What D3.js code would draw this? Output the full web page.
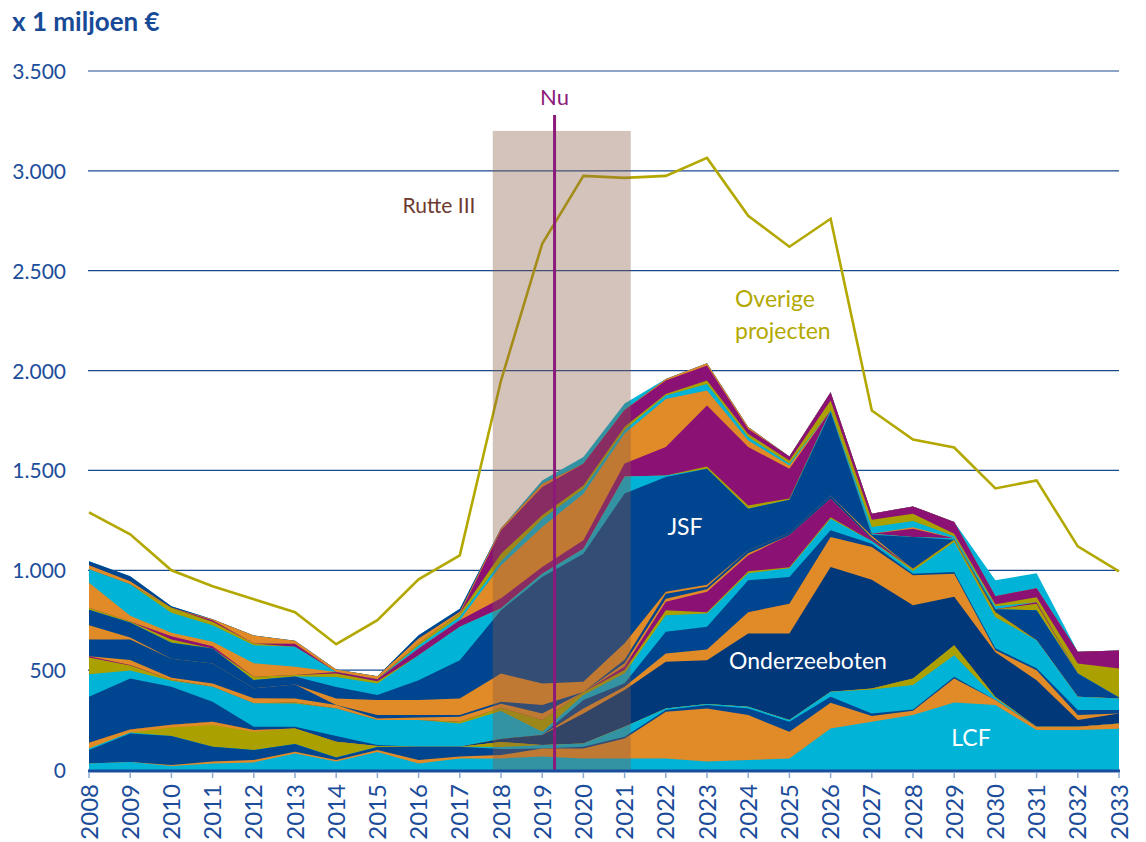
<!DOCTYPE html>
<html>
<head>
<meta charset="utf-8">
<script src="https://cdn.jsdelivr.net/npm/d3@7"></script>
<style>
  body { margin: 0; background: #fff; }
  svg { display: block; font-family: Lato, "Open Sans", sans-serif; }
</style>
</head>
<body>
<svg id="chart" width="1146" height="842"></svg>
<script>
// years on the x axis
var years = d3.range(2008, 2034);

// y axis ticks
var yTicks = [0, 500, 1000, 1500, 2000, 2500, 3000, 3500];

// total of all projects ("Overige projecten" line)
var overige = [1290, 1180, 1000, 920, 855, 790, 630, 750, 955, 1075, 1950, 2635, 2975,
               2965, 2975, 3065, 2775, 2620, 2760, 1800, 1655, 1615, 1410, 1450, 1120, 995];

// stacked layers, bottom to top (x 1 miljoen euro)
var lcf  = [33,40,20,33,38,83,42,90,33,58,58,67,58,58,58,42,50,58,208,242,275,338,325,200,200,207];
var or1  = [0,0,5,9,12,9,8,10,17,9,17,41,50,100,234,266,225,134,129,28,22,120,25,17,17,26];
var bl1  = [67,143,145,75,50,38,13,15,67,50,30,0,8,9,8,17,33,50,30,13,6,9,0,0,0,0];
var cy1  = [8,5,0,0,0,0,0,0,0,0,10,17,17,50,8,5,9,8,25,120,122,108,10,0,0,0];
var ol1  = [0,0,43,108,92,78,79,5,0,0,25,0,0,0,0,0,0,0,0,5,33,50,5,0,0,0];
var or2  = [29,15,14,17,8,0,0,0,0,0,0,0,0,0,0,0,0,0,0,0,0,0,0,0,0,0];
var onderzeeboten = [0,0,0,0,0,0,0,0,0,0,15,50,150,183,234,220,366,433,625,545,367,242,225,233,33,50];
var or3  = [0,0,0,0,0,0,0,0,0,0,0,0,25,17,41,53,107,150,150,164,150,116,10,50,25,0];
var bl2  = [230,255,190,100,17,9,28,5,0,0,0,0,42,17,109,114,160,134,33,16,8,9,10,10,25,17];
var cy2  = [113,40,30,75,117,116,138,125,133,116,140,17,25,50,83,66,35,43,58,14,14,150,155,140,67,58];
var ol2  = [83,25,5,0,0,5,0,0,0,9,17,58,15,17,25,7,10,5,7,0,11,11,25,0,0,0];
var pu1  = [7,3,0,0,0,0,0,0,0,0,0,0,0,17,42,102,80,160,93,8,0,0,0,0,0,0];
var or4  = [0,25,10,16,25,20,17,8,13,25,20,33,0,17,16,13,10,0,0,0,0,0,0,0,0,0];
var bl3  = [83,103,95,100,50,70,0,17,12,8,10,42,0,17,25,12,15,12,17,8,0,0,0,0,0,0];
var or5  = [72,10,0,0,0,0,33,75,75,83,141,108,52,83,9,11,0,0,0,10,0,0,0,0,0,0];
var jsf  = [78,75,80,75,41,40,58,25,100,192,317,534,641,750,575,580,208,166,417,5,159,0,15,150,116,5];
var cy3  = [0,0,0,0,0,0,50,58,125,167,10,16,25,84,8,0,0,0,8,5,0,8,0,0,0,0];
var ol3  = [10,5,16,0,17,8,17,12,0,0,0,0,0,0,0,12,17,7,0,0,0,0,0,33,0,0];
var pu2  = [0,0,17,12,0,0,8,10,33,33,50,34,42,66,142,305,292,148,0,0,41,0,0,7,0,0];
var or6  = [125,28,17,22,67,41,0,0,0,0,165,200,233,150,241,75,33,17,0,0,7,0,0,0,0,0];
var cy4  = [67,158,100,83,91,100,0,0,15,17,20,41,25,17,17,33,17,10,0,34,32,9,15,0,0,0];
var ol4  = [0,0,25,17,9,0,0,0,10,16,38,17,17,17,8,17,16,15,50,36,36,13,10,25,50,145];
var pu3  = [0,0,0,8,0,15,0,0,0,0,117,142,108,83,67,75,25,20,42,30,37,59,40,45,59,90];
var or7  = [20,15,0,5,40,15,12,15,25,10,10,16,0,0,8,12,9,0,0,0,0,0,0,0,0,0];
var bl4  = [20,25,8,0,0,0,0,0,17,15,0,0,0,0,0,0,0,0,0,0,0,0,0,0,0,0];
var cy5  = [0,0,0,0,0,0,0,0,0,0,0,17,34,33,0,0,0,0,0,0,0,0,80,75,0,0];

// colours
var cyan = '#00b3d7', orange = '#e08b27', blue = '#00458f', navy = '#00387a',
    olive = '#aaa000', purple = '#8b1175';

var layers = [
  {key: 'lcf', values: lcf, color: cyan},
  {key: 'or1', values: or1, color: orange},
  {key: 'bl1', values: bl1, color: blue},
  {key: 'cy1', values: cy1, color: cyan},
  {key: 'ol1', values: ol1, color: olive},
  {key: 'or2', values: or2, color: orange},
  {key: 'ozb', values: onderzeeboten, color: navy},
  {key: 'or3', values: or3, color: orange},
  {key: 'bl2', values: bl2, color: blue},
  {key: 'cy2', values: cy2, color: cyan},
  {key: 'ol2', values: ol2, color: olive},
  {key: 'pu1', values: pu1, color: purple},
  {key: 'or4', values: or4, color: orange},
  {key: 'bl3', values: bl3, color: blue},
  {key: 'or5', values: or5, color: orange},
  {key: 'jsf', values: jsf, color: blue},
  {key: 'cy3', values: cy3, color: cyan},
  {key: 'ol3', values: ol3, color: olive},
  {key: 'pu2', values: pu2, color: purple},
  {key: 'or6', values: or6, color: orange},
  {key: 'cy4', values: cy4, color: cyan},
  {key: 'ol4', values: ol4, color: olive},
  {key: 'pu3', values: pu3, color: purple},
  {key: 'or7', values: or7, color: orange},
  {key: 'bl4', values: bl4, color: blue},
  {key: 'cy5', values: cy5, color: cyan}
];

// rows for d3.stack
var rows = years.map(function(yr, i) {
  var row = {year: yr};
  layers.forEach(function(l) { row[l.key] = l.values[i]; });
  return row;
});

var svg = d3.select('#chart');
var textBlue = '#1c4d9a';

var x = d3.scaleLinear().domain([2008, 2033]).range([89, 1119]);
var y = d3.scaleLinear().domain([0, 3500]).range([770, 71]);

// Gridlines
svg.append('g').selectAll('line')
  .data(yTicks.filter(function(d) { return d > 0; }))
  .enter().append('line')
  .attr('x1', 88).attr('x2', 1119)
  .attr('y1', function(d) { return y(d); })
  .attr('y2', function(d) { return y(d); })
  .style('stroke', '#1a4a8e')
  .style('stroke-width', 1.2);

// Y labels
svg.append('g').selectAll('text')
  .data(yTicks)
  .enter().append('text')
  .attr('x', 66)
  .attr('y', function(d) { return y(d) + 8; })
  .attr('text-anchor', 'end')
  .style('font-size', '21px')
  .style('fill', textBlue)
  .text(function(d) { return d3.format(',')(d).replace(/,/g, '.'); });

// Stacked areas: each drawn from zero to its top, highest first, to avoid seams
var stack = d3.stack().keys(layers.map(function(l) { return l.key; }));
var series = stack(rows);

var area = d3.area()
  .x(function(d) { return x(d.data.year); })
  .y0(y(0))
  .y1(function(d) { return y(d[1]); });

svg.append('g').selectAll('path')
  .data(series.slice().reverse())
  .enter().append('path')
  .attr('d', area)
  .style('fill', function(s) { return layers[s.index].color; });

// Overige projecten line
var line = d3.line()
  .x(function(d, i) { return x(years[i]); })
  .y(function(d) { return y(d); });

svg.append('path')
  .datum(overige)
  .attr('d', line)
  .style('fill', 'none')
  .style('stroke', '#b3a800')
  .style('stroke-width', 2.6);

// Rutte III band
svg.append('rect')
  .attr('x', x(2017.8))
  .attr('y', y(3200))
  .attr('width', x(2021.15) - x(2017.8))
  .attr('height', y(0) - y(3200))
  .style('fill', 'rgb(139,93,71)')
  .style('opacity', 0.37);

svg.append('text')
  .attr('x', 439).attr('y', 213)
  .attr('text-anchor', 'middle')
  .style('font-size', '21px')
  .style('fill', '#6d3a2f')
  .text('Rutte III');

// Nu line
svg.append('line')
  .attr('x1', x(2019.3)).attr('x2', x(2019.3))
  .attr('y1', y(0)).attr('y2', 115)
  .style('stroke', '#8b1a7b')
  .style('stroke-width', 3);

svg.append('text')
  .attr('x', x(2019.3)).attr('y', 105)
  .attr('text-anchor', 'middle')
  .style('font-size', '22px')
  .style('fill', '#8b1a7b')
  .text('Nu');

// Baseline and ticks
svg.append('line')
  .attr('x1', 88).attr('x2', 1120)
  .attr('y1', y(0) + 1).attr('y2', y(0) + 1)
  .style('stroke', '#1a4d9b')
  .style('stroke-width', 3);

svg.append('g').selectAll('line')
  .data(years)
  .enter().append('line')
  .attr('x1', function(d) { return x(d); })
  .attr('x2', function(d) { return x(d); })
  .attr('y1', y(0) + 2).attr('y2', y(0) + 8)
  .style('stroke', '#8ea9d2')
  .style('stroke-width', 1.5);

// X labels, rotated
svg.append('g').selectAll('text')
  .data(years)
  .enter().append('text')
  .attr('transform', function(d) { return 'translate(' + x(d) + ',784) rotate(-90)'; })
  .attr('text-anchor', 'end')
  .attr('dy', '0.36em')
  .style('font-size', '24px')
  .style('fill', textBlue)
  .text(function(d) { return d; });

// Title
svg.append('text')
  .attr('x', 12).attr('y', 31)
  .style('font-size', '26px')
  .style('font-weight', 'bold')
  .style('fill', '#174a96')
  .text('x 1 miljoen €');

// Series labels
function label(txt, xPos, yPos, color, anchor) {
  svg.append('text')
    .attr('x', xPos).attr('y', yPos)
    .attr('text-anchor', anchor || 'middle')
    .style('font-size', '23px')
    .style('fill', color)
    .text(txt);
}
label('JSF', 685, 535, '#fff');
label('Onderzeeboten', 808, 669, '#fff');
label('LCF', 971, 746, '#fff');
label('Overige', 735, 307, '#b3a800', 'start');
label('projecten', 735, 339, '#b3a800', 'start');
</script>
</body>
</html>
